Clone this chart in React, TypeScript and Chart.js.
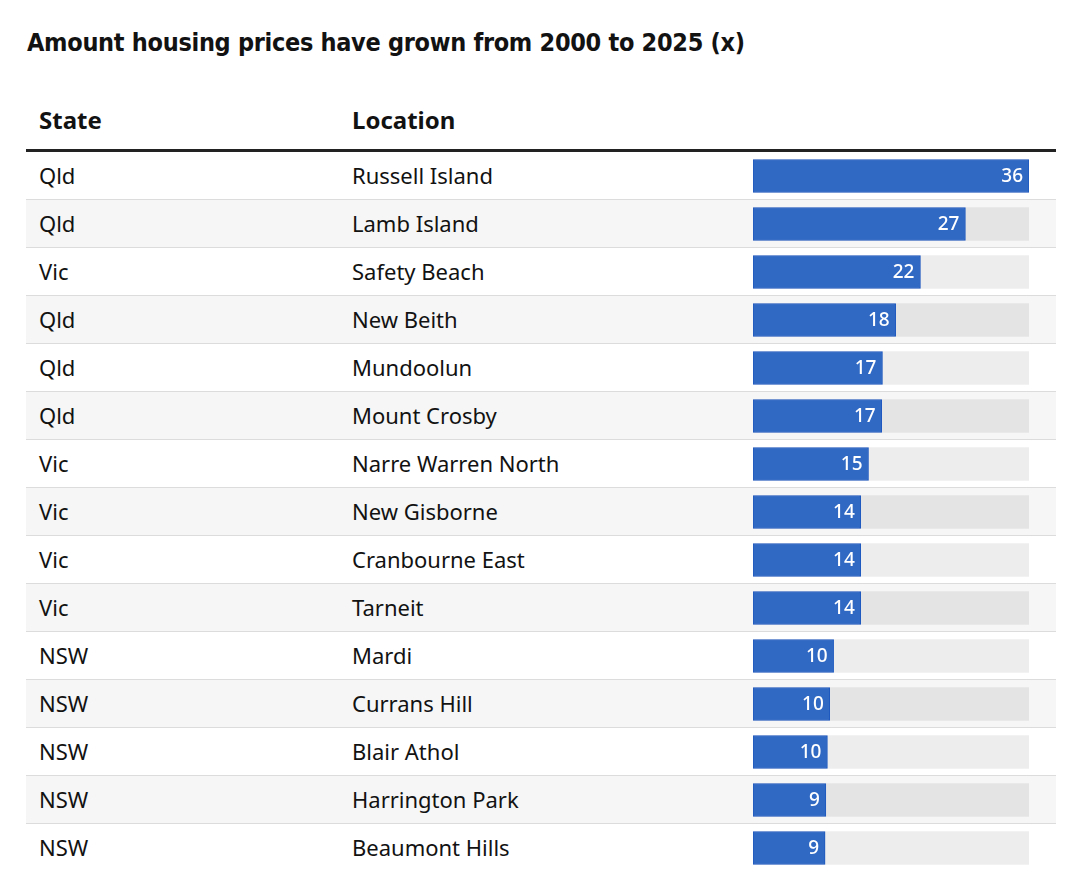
import React, { useEffect, useRef } from "react";
import { Chart, registerables } from "chart.js";

Chart.register(...registerables);

const title = "Amount housing prices have grown from 2000 to 2025 (x)";
const columnHeaders = ["State", "Location"];
const states = ["Qld", "Qld", "Vic", "Qld", "Qld", "Qld", "Vic", "Vic", "Vic", "Vic", "NSW", "NSW", "NSW", "NSW", "NSW"];
const locations = [
  "Russell Island",
  "Lamb Island",
  "Safety Beach",
  "New Beith",
  "Mundoolun",
  "Mount Crosby",
  "Narre Warren North",
  "New Gisborne",
  "Cranbourne East",
  "Tarneit",
  "Mardi",
  "Currans Hill",
  "Blair Athol",
  "Harrington Park",
  "Beaumont Hills",
];
const growth = [35.6, 27.4, 21.6, 18.4, 16.7, 16.6, 14.9, 13.9, 13.9, 13.9, 10.4, 9.9, 9.6, 9.4, 9.3];

const FONT = "'Noto Sans', 'Open Sans', sans-serif";
const ROW_H = 48;

export default function App() {
  const canvasRef = useRef<HTMLCanvasElement | null>(null);

  useEffect(() => {
    const canvas = canvasRef.current;
    if (!canvas) return;
    const maxVal = Math.max(...growth);
    const labelPlugin = {
      id: "valueLabels",
      afterDatasetsDraw(chart: any) {
        const meta = chart.getDatasetMeta(1);
        const ctx = chart.ctx;
        ctx.save();
        ctx.fillStyle = "#ffffff";
        ctx.font = `500 19px ${FONT}`;
        ctx.textAlign = "right";
        ctx.textBaseline = "middle";
        meta.data.forEach((bar: any, i: number) => {
          ctx.fillText(String(Math.round(growth[i])), bar.x - 6, bar.y + 1);
        });
        ctx.restore();
      },
    };
    const chart = new Chart(canvas, {
      type: "bar",
      data: {
        labels: locations,
        datasets: [
          {
            label: "track",
            data: growth.map(() => maxVal),
            backgroundColor: "rgba(0,0,0,0.07)",
            borderWidth: 0,
            barThickness: 33,
            grouped: false,
            order: 2,
          },
          {
            label: "growth",
            data: growth,
            backgroundColor: "#3069c4",
            borderColor: "#1d58bf",
            borderWidth: 1,
            borderSkipped: false,
            barThickness: 33,
            grouped: false,
            order: 1,
          },
        ],
      },
      options: {
        indexAxis: "y",
        responsive: false,
        animation: false,
        layout: { padding: 0 },
        plugins: { legend: { display: false }, tooltip: { enabled: false } },
        scales: {
          x: { display: false, min: 0, max: maxVal },
          y: { display: false },
        },
      },
      plugins: [labelPlugin],
    });
    return () => chart.destroy();
  }, []);

  return (
    <div style={{ position: "relative", marginLeft: 18, width: 1030, fontFamily: FONT, color: "#121212" }}>
      <div
        style={{
          height: 66,
          paddingTop: 2,
          fontFamily: "'DejaVu Sans Condensed', 'DejaVu Sans', sans-serif",
          fontWeight: 700,
          fontSize: 25,
          lineHeight: "66px",
          marginLeft: 1,
          letterSpacing: -0.3,
          whiteSpace: "nowrap",
        }}
      >
        {title}
      </div>
      <div style={{ position: "relative", height: 73, borderBottom: "3px solid #222" }}>
        <div style={{ position: "absolute", left: 13, top: 29, fontWeight: 700, fontSize: 24, lineHeight: "30px" }}>
          {columnHeaders[0]}
        </div>
        <div style={{ position: "absolute", left: 326, top: 29, fontWeight: 700, fontSize: 24, lineHeight: "30px" }}>
          {columnHeaders[1]}
        </div>
      </div>
      <div style={{ position: "relative" }}>
        {states.map((s, i) => (
          <div
            key={i}
            style={{
              position: "relative",
              height: ROW_H - 1,
              borderBottom: i === states.length - 1 ? "1px solid transparent" : "1px solid #dcdcdc",
              background: i % 2 === 1 ? "#f6f6f6" : "#ffffff",
              fontSize: 22,
              lineHeight: `${ROW_H - 1}px`,
            }}
          >
            <span style={{ position: "absolute", left: 13 }}>{s}</span>
            <span style={{ position: "absolute", left: 326 }}>{locations[i]}</span>
          </div>
        ))}
        <canvas
          ref={canvasRef}
          width={276}
          height={ROW_H * states.length}
          style={{ position: "absolute", left: 727, top: 0, width: 276, height: ROW_H * states.length }}
        />
      </div>
    </div>
  );
}
